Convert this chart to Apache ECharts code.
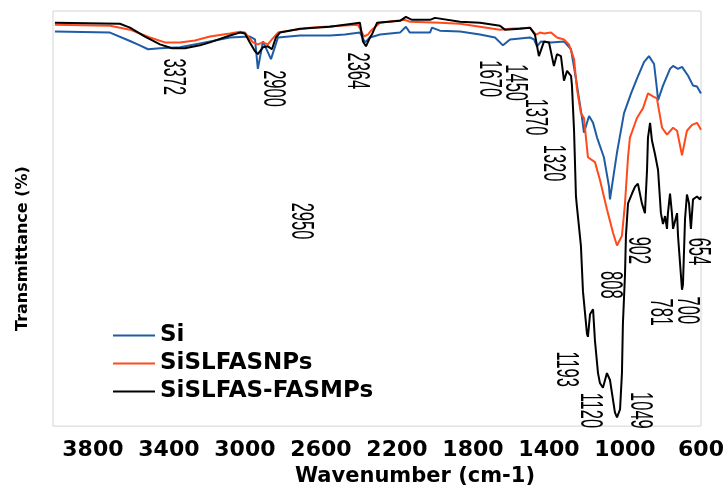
<!DOCTYPE html>
<html>
<head>
<meta charset="utf-8">
<title>FTIR</title>
<script src="https://cdn.jsdelivr.net/npm/echarts@6/dist/echarts.min.js"></script>
<style>html,body{margin:0;padding:0;background:#fff;}</style>
</head>
<body>
<div id="mychar" style="width:728px;height:492px;"></div>
<script type="text/javascript">
// series names
var names = ['Si', 'SiSLFASNPs', 'SiSLFAS-FASMPs'];
var colors = ['#1f5ca6', '#ff4a1c', '#000000'];
var xTicks = [600, 1000, 1400, 1800, 2200, 2600, 3000, 3400, 3800];

// [wavenumber, transmittance]
var siData = [[4000,100.5],[3710,100.25],[3605,98.1],[3553,97],[3510,96],[3447,96.25],[3342,96.5],[3237,97.5],[3184,98],[3079,99],[2974,99.25],[2947,98.5],[2932,91],[2905,98],[2863,93.5],[2826,99],[2710,99.5],[2553,99.5],[2474,99.75],[2395,100.25],[2368,97.75],[2342,99],[2289,99.75],[2184,100.25],[2153,101.75],[2132,100.25],[2026,100.25],[2016,101.5],[1974,100.75],[1868,100.5],[1763,99.75],[1684,99],[1642,97],[1605,98.5],[1500,99],[1479,98.5],[1463,96.75],[1442,98],[1389,97.75],[1321,98],[1284,96],[1258,88.5],[1242,83.5],[1226,78.5],[1216,74.75],[1189,79],[1168,77.25],[1147,73.5],[1111,68.5],[1084,61],[1079,57.75],[1042,69.75],[1005,79.75],[968,84.75],[937,88.5],[900,92.75],[874,94.25],[847,92.25],[832,86],[826,83],[800,86.75],[763,91],[747,91.75],[721,91],[700,91.5],[668,89.25],[642,86.75],[621,86.5],[600,84.75]];

var npData = [[4000,102.25],[3710,102],[3605,101],[3500,99],[3421,97.75],[3342,97.75],[3263,98.25],[3184,99.25],[3079,100],[3026,100.5],[3000,100.25],[2958,97.75],[2932,97.25],[2905,97.75],[2879,97.25],[2858,98.5],[2826,100.25],[2763,100.75],[2658,101.5],[2500,102],[2405,102.25],[2374,99.25],[2353,99.75],[2332,101],[2289,102.75],[2158,103.5],[2132,103],[1974,102.75],[1868,102.5],[1763,101.75],[1658,101],[1605,101.25],[1500,101.5],[1468,99.75],[1447,100.25],[1426,100],[1389,100.25],[1358,99],[1321,98.5],[1295,97.25],[1268,93.5],[1253,86],[1232,79.75],[1216,78.5],[1195,68.5],[1158,67.25],[1132,62.75],[1095,55.25],[1063,49.25],[1042,46],[1016,48.5],[1000,56.75],[984,68.5],[974,73.5],[937,78.5],[905,81],[879,84.75],[853,84],[832,83.5],[805,76],[779,74.25],[747,76],[726,75.25],[700,69],[674,75.25],[647,76.75],[621,77.25],[600,75.5]];

var mpData = [[4000,102.75],[3658,102.5],[3605,101.5],[3526,99.25],[3447,97.25],[3384,96.25],[3316,96.25],[3237,97],[3184,97.75],[3079,99.5],[3026,100.25],[3000,100],[2974,97.75],[2947,95.5],[2932,94.75],[2905,96.5],[2879,96.75],[2858,96],[2837,99],[2816,100.25],[2710,101.25],[2553,101.75],[2395,102.75],[2379,98],[2363,96.75],[2342,99],[2332,99.75],[2305,102.75],[2184,103.25],[2153,104.25],[2121,103.5],[2026,103.5],[2000,104],[1868,103],[1763,102.75],[1658,102],[1632,101],[1553,101.25],[1500,101.5],[1474,99.75],[1453,94.25],[1426,98],[1400,97.75],[1374,91.75],[1358,94.75],[1337,94.25],[1321,88],[1305,90.5],[1284,89.25],[1279,86.75],[1268,75.25],[1258,58.5],[1253,56],[1232,46],[1221,34.25],[1200,23.5],[1195,22.75],[1184,28.5],[1168,29.75],[1158,21.75],[1142,13.5],[1132,11],[1116,9.75],[1095,13.5],[1079,11.75],[1053,3.5],[1042,2.25],[1026,4.25],[1016,13.5],[1011,26],[1000,38.5],[995,48.5],[984,56.75],[963,59.25],[947,61],[932,61.75],[911,56.75],[895,54.25],[884,65.25],[879,73.5],[868,77.25],[858,72.75],[842,69.25],[826,65.25],[811,54.25],[800,51.5],[789,53.5],[779,50.25],[774,54.25],[763,59.25],[753,54.25],[747,50.25],[726,54.25],[721,48.5],[700,34.75],[695,36],[684,52.75],[674,59],[663,56.75],[653,50.25],[642,57.75],[621,58.5],[605,57.75],[600,58.5]];

// peak labels and where they sit (wavenumber, transmittance)
var peakText = ['3372','2900','2364','2950','1670','1450','1370','1320','902','808','654','781','700','1193','1120','1049'];
var peakAt = [[3379,89],[2853,86],[2411,90.5],[2710,52.25],[1716,88.5],[1579,87.5],[1474,78.75],[1384,67],[932,44.75],[1084,36],[621,44.5],[816,29],[674,29.5],[1311,14.5],[1189,4],[926,4]];

var mychar = echarts.init(document.getElementById('mychar'));
var boldFont = {fontFamily: 'DejaVu Sans', fontWeight: 'bold', color: '#000'};

var option = {
    animation: false,
    grid: {
        left: 53, top: 11, right: 27, bottom: 58,
        show: true, borderColor: '#d4d4d4', borderWidth: 1
    },
    legend: {
        orient: 'vertical',
        left: 108, top: 319,
        icon: 'rect',
        itemWidth: 42, itemHeight: 2, itemGap: 5,
        data: names,
        textStyle: Object.assign({fontSize: 23}, boldFont)
    },
    xAxis: {
        type: 'value', inverse: true,
        min: 600, max: 4010,
        name: 'Wavenumber (cm-1)', nameLocation: 'middle', nameGap: 37,
        nameTextStyle: Object.assign({fontSize: 21, padding: [0, 0, 0, 76]}, boldFont),
        axisLine: {show: false}, splitLine: {show: false},
        axisTick: {show: false, customValues: xTicks},
        axisLabel: Object.assign({
            fontSize: 22, margin: 13, customValues: xTicks,
            formatter: function (v) { return String(v); }
        }, boldFont)
    },
    yAxis: {
        type: 'value', min: 0, max: 105.75,
        name: 'Transmittance (%)', nameLocation: 'middle', nameGap: 22,
        nameTextStyle: Object.assign({fontSize: 16, padding: [0, 60, 0, 0]}, boldFont),
        axisLine: {show: false}, axisTick: {show: false},
        axisLabel: {show: false}, splitLine: {show: false}
    },
    series: [siData, npData, mpData].map(function (d, i) {
        return {
            name: names[i], type: 'line', data: d,
            symbol: 'none', color: colors[i],
            lineStyle: {width: 2, color: colors[i]}
        };
    })
};
mychar.setOption(option);

// rotated peak numbers, placed through the axes
var peaks = peakText.map(function (t, i) {
    var p = mychar.convertToPixel({gridIndex: 0}, peakAt[i]);
    return {
        type: 'text', x: p[0], y: p[1], silent: true,
        rotation: -Math.PI / 2, scaleX: 0.75, scaleY: 1.4,
        style: {
            text: t, fill: '#000', fontSize: 22, fontFamily: 'Liberation Sans',
            align: 'center', verticalAlign: 'middle'
        }
    };
});
mychar.setOption({graphic: peaks});
</script>
</body>
</html>
